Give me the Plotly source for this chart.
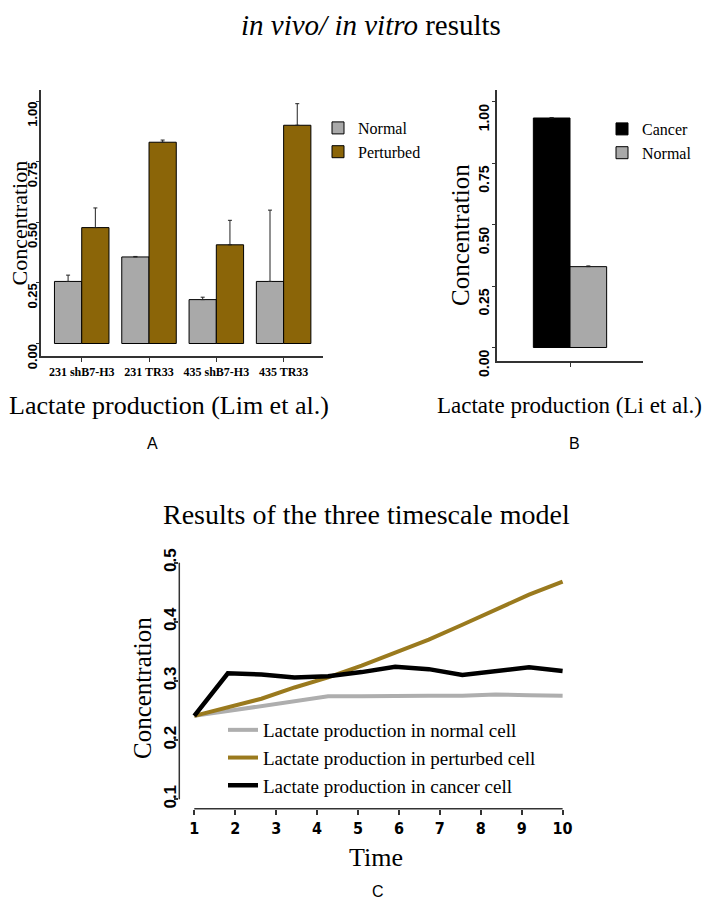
import plotly.graph_objects as go

# page is 710x902; the html body adds an 8px margin, so the figure itself is 702x894
PAGE_W, PAGE_H = 710, 902
OFF = 8
W, H = PAGE_W - OFF, PAGE_H - OFF

# ---------------- data ----------------
# Panel A (Lim et al.)
a_categories = ["231 shB7-H3", "231 TR33", "435 shB7-H3", "435 TR33"]
a_normal = [0.256, 0.357, 0.181, 0.256]
a_normal_err = [0.026, 0.002, 0.010, 0.294]
a_perturbed = [0.478, 0.830, 0.407, 0.900]
a_perturbed_err = [0.081, 0.009, 0.101, 0.089]

# Panel B (Li et al.)
b_category = ["Lactate production"]
b_cancer = [0.934]
b_cancer_err = [0.002]
b_normal = [0.329]
b_normal_err = [0.003]

# Panel C (three timescale model)
c_time = [1, 1.82, 2.64, 3.45, 4.27, 5.09, 5.91, 6.73, 7.55, 8.36, 9.18, 10]
c_normal = [0.241, 0.249, 0.258, 0.266, 0.274, 0.274, 0.275, 0.275, 0.275, 0.277, 0.276, 0.275]
c_perturbed = [0.241, 0.255, 0.270, 0.289, 0.306, 0.326, 0.348, 0.370, 0.395, 0.420, 0.446, 0.468]
c_cancer = [0.241, 0.313, 0.311, 0.306, 0.308, 0.315, 0.324, 0.320, 0.310, 0.317, 0.323, 0.317]

a_yticks = [0, 0.25, 0.5, 0.75, 1.0]
c_yticks = [0.1, 0.2, 0.3, 0.4, 0.5]
c_xticks = list(range(1, 11))

# ---------------- styles ----------------
SERIF = "Liberation Serif, Times New Roman, serif"
SANS = "Liberation Sans, Arial, sans-serif"
NARROW = "Liberation Sans Narrow, DejaVu Sans Condensed, Roboto Condensed, Liberation Sans, sans-serif"
GRAY = "#A9A9A9"
BROWN = "#8B6508"
GOLD = "#9A7A1E"
AXC = "#333333"


def px(x):
    return (x - OFF) / W


def py(y):
    return 1 - (y - OFF) / H


fig = go.Figure()

# Panel A bars
fig.add_trace(go.Bar(
    x=a_categories, y=a_normal, name="Normal",
    marker=dict(color=GRAY, line=dict(color="black", width=1)),
    error_y=dict(type="data", array=a_normal_err, arrayminus=[0] * 4,
                 color="#222222", thickness=1, width=2),
    xaxis="x", yaxis="y", legend="legend", offsetgroup="n",
))
fig.add_trace(go.Bar(
    x=a_categories, y=a_perturbed, name="Perturbed",
    marker=dict(color=BROWN, line=dict(color="black", width=1)),
    error_y=dict(type="data", array=a_perturbed_err, arrayminus=[0] * 4,
                 color="#222222", thickness=1, width=2),
    xaxis="x", yaxis="y", legend="legend", offsetgroup="p",
))

# Panel B bars
fig.add_trace(go.Bar(
    x=b_category, y=b_cancer, name="Cancer",
    marker=dict(color="black", line=dict(color="black", width=1)),
    error_y=dict(type="data", array=b_cancer_err, arrayminus=[0],
                 color="#222222", thickness=1, width=2),
    offset=-0.5, width=0.5,
    xaxis="x2", yaxis="y2", legend="legend2",
))
fig.add_trace(go.Bar(
    x=b_category, y=b_normal, name="Normal",
    marker=dict(color=GRAY, line=dict(color="black", width=1)),
    error_y=dict(type="data", array=b_normal_err, arrayminus=[0],
                 color="#222222", thickness=1, width=2),
    offset=0, width=0.5,
    xaxis="x2", yaxis="y2", legend="legend2",
))

# Panel C lines
fig.add_trace(go.Scatter(
    x=c_time, y=c_normal, mode="lines", name="Lactate production in normal cell",
    line=dict(color="#AEAEAE", width=4), xaxis="x3", yaxis="y3", legend="legend3",
))
fig.add_trace(go.Scatter(
    x=c_time, y=c_perturbed, mode="lines", name="Lactate production in perturbed cell",
    line=dict(color=GOLD, width=4), xaxis="x3", yaxis="y3", legend="legend3",
))
fig.add_trace(go.Scatter(
    x=c_time, y=c_cancer, mode="lines", name="Lactate production in cancer cell",
    line=dict(color="black", width=4.5), xaxis="x3", yaxis="y3", legend="legend3",
))

bold_sans_tick = dict(family=SANS, size=14, color="black", weight="bold")

fig.update_layout(
    width=W, height=H,
    margin=dict(l=0, r=0, t=0, b=0, autoexpand=False),
    paper_bgcolor="white", plot_bgcolor="white",
    barmode="group", bargap=0.19, bargroupgap=0,
    font=dict(family=SERIF, color="black"),
    xaxis=dict(
        domain=[px(41), px(323)], anchor="y", automargin=False,
        range=[-0.605, 3.585], type="category",
        showline=True, linecolor=AXC, linewidth=1.5,
        ticks="outside", ticklen=4, tickcolor=AXC,
        tickfont=dict(family=SERIF, size=12, color="black", weight="bold"),
        showgrid=False, zeroline=False,
    ),
    yaxis=dict(
        domain=[py(356), py(90)], anchor="x", automargin=False,
        range=[-0.0515, 1.0454],
        tickvals=a_yticks, tickformat=".2f", tickangle=-90,
        ticklabelshift=15, ticklabelstandoff=-6,
        showline=True, linecolor=AXC, linewidth=1.5,
        ticks="outside", ticklen=3, tickcolor=AXC,
        tickfont=dict(family=SANS, size=13, color="black", weight="bold"),
        showgrid=False, zeroline=False,
    ),
    xaxis2=dict(
        domain=[px(496.7), px(643.3)], anchor="y2", automargin=False,
        range=[-1, 1], type="category",
        showline=True, linecolor=AXC, linewidth=1.5,
        ticks="outside", ticklen=4, tickcolor=AXC,
        showticklabels=False,
        showgrid=False, zeroline=False,
    ),
    yaxis2=dict(
        domain=[py(361), py(90)], anchor="x2", automargin=False,
        range=[-0.055, 1.048],
        tickvals=a_yticks, tickformat=".2f", tickangle=-90,
        ticklabelshift=18, ticklabelstandoff=-3,
        showline=True, linecolor=AXC, linewidth=1.5,
        ticks="outside", ticklen=3, tickcolor=AXC,
        tickfont=bold_sans_tick,
        showgrid=False, zeroline=False,
    ),
    xaxis3=dict(
        domain=[px(179.3), px(566.7)], anchor="y3", automargin=False,
        range=[0.634, 10.1],
        tickvals=c_xticks,
        showline=False,
        ticks="outside", ticklen=5, tickcolor=AXC, tickwidth=1.5,
        tickfont=dict(family=NARROW, size=16, color="black", weight="bold"),
        showgrid=False, zeroline=False,
    ),
    yaxis3=dict(
        domain=[py(808.7), py(559.7)], anchor="x3", automargin=False,
        range=[0.0841, 0.505],
        tickvals=c_yticks, tickformat=".1f", tickangle=-90,
        ticklabelstandoff=-8,
        showline=False,
        ticks="outside", ticklen=4, tickcolor=AXC, tickwidth=1.5,
        tickfont=dict(family=SANS, size=17, color="black", weight="bold"),
        showgrid=False, zeroline=False,
    ),
    legend=dict(
        x=px(318), y=py(111), xanchor="left", yanchor="top",
        font=dict(family=SERIF, size=16, color="black"),
        bgcolor="rgba(0,0,0,0)", itemwidth=30, tracegroupgap=0,
    ),
    legend2=dict(
        x=px(602), y=py(112), xanchor="left", yanchor="top",
        font=dict(family=SERIF, size=16, color="black"),
        bgcolor="rgba(0,0,0,0)", itemwidth=30, tracegroupgap=0,
    ),
    legend3=dict(
        x=px(223), y=py(711), xanchor="left", yanchor="top",
        font=dict(family=SERIF, size=19, color="black"),
        bgcolor="rgba(0,0,0,0)", itemwidth=30, tracegroupgap=0,
    ),
    shapes=[
        # R-style axis lines for panel C (span first to last tick)
        dict(type="line", xref="x3 domain", yref="y3", x0=0, x1=0, y0=0.1, y1=0.5,
             line=dict(color=AXC, width=1.5)),
        dict(type="line", xref="x3", yref="y3 domain", x0=1, x1=10, y0=0, y1=0,
             line=dict(color=AXC, width=1.5)),
    ],
)

ann = []


def add_text(text, x, y, size, angle=0, family=SERIF):
    ann.append(dict(text=text, x=px(x), y=py(y), xref="paper", yref="paper",
                    showarrow=False, textangle=angle, xanchor="center", yanchor="middle",
                    font=dict(family=family, size=size, color="black")))


add_text("<i>in vivo/ in vitro</i> results", 371, 25, 29)
add_text("Concentration", 19.5, 223, 22, -90)
add_text("Lactate production (Lim et al.)", 169, 405, 26)
add_text("A", 152, 443, 16, family=SANS)
add_text("Concentration", 460, 235, 25, -90)
add_text("Lactate production (Li et al.)", 569, 405, 23)
add_text("B", 574, 443, 16, family=SANS)
add_text("Results of the three timescale model", 366, 514, 28)
add_text("Concentration", 142, 688, 25, -90)
add_text("Time", 376, 857, 26)
add_text("C", 378, 891, 16, family=SANS)

fig.update_layout(annotations=ann)

fig.write_html("out.html")
